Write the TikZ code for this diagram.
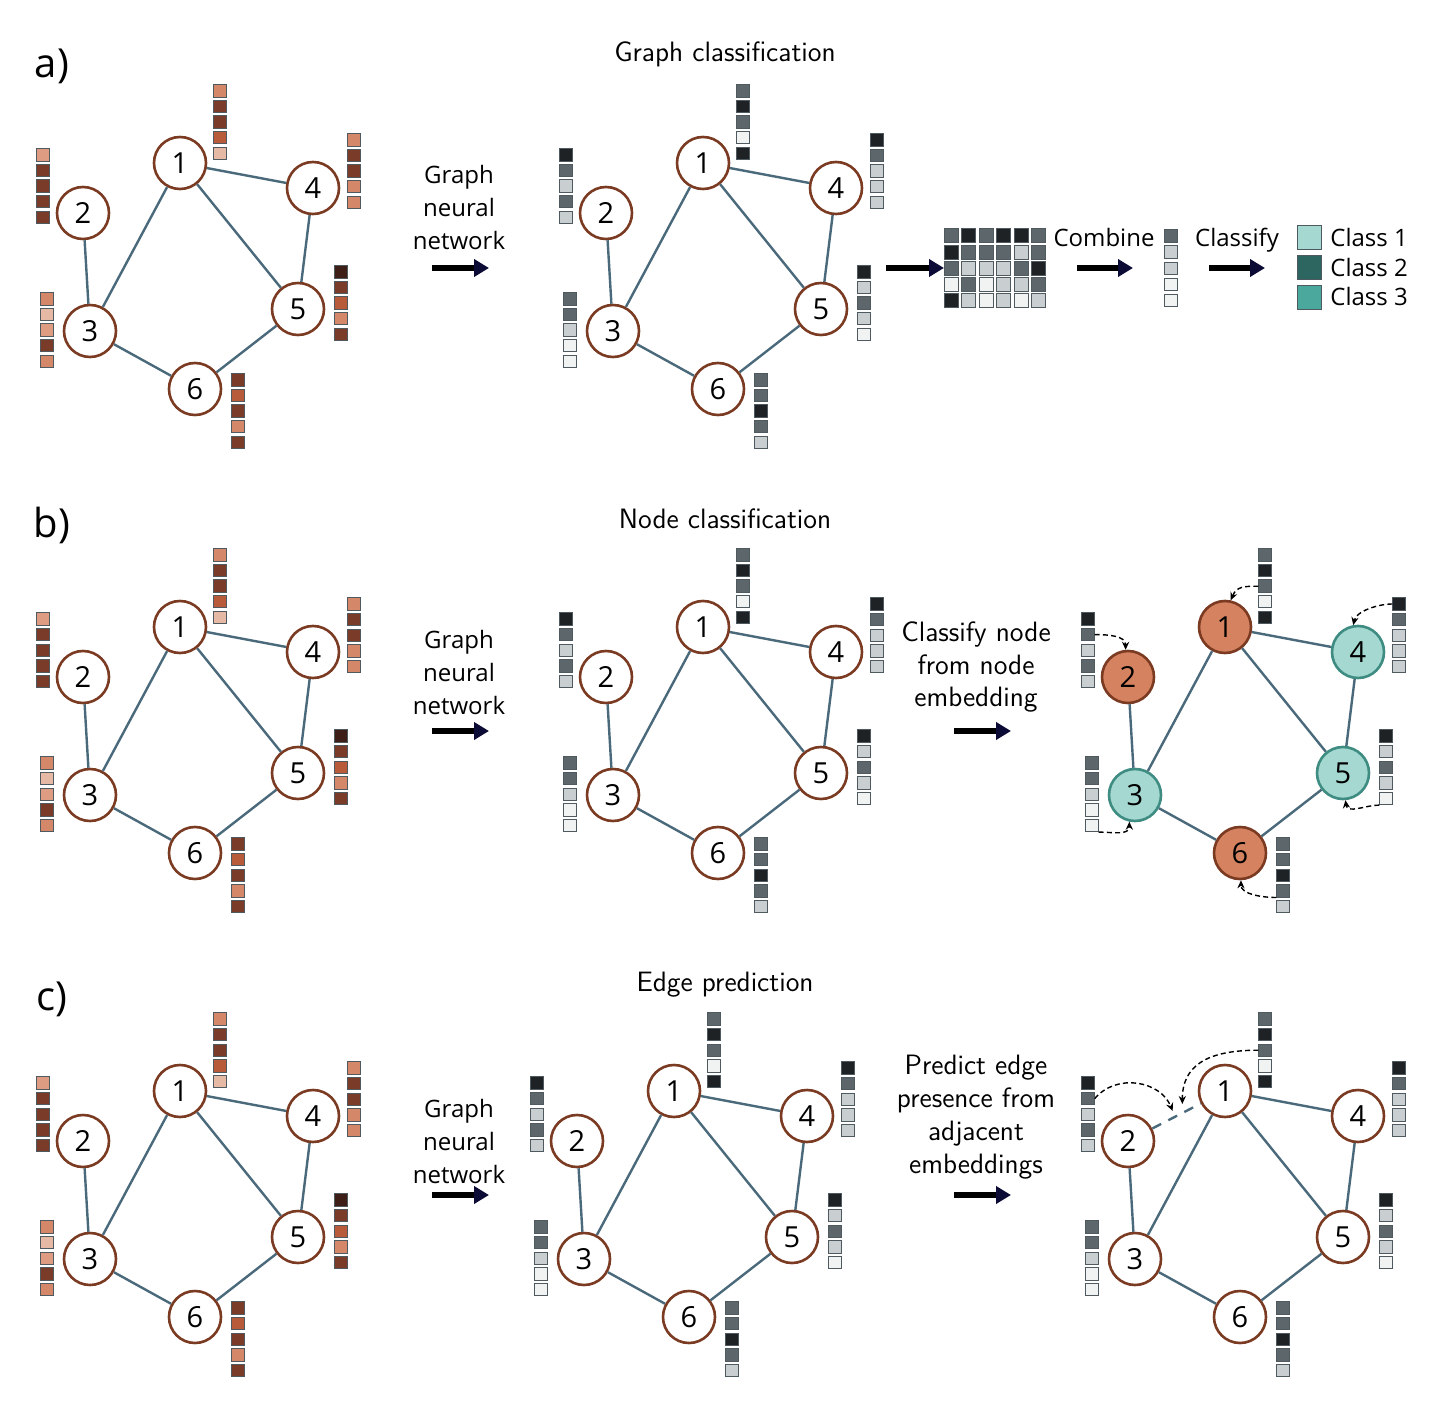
\documentclass[tikz,border=0pt]{standalone}
\usepackage{fontspec}
\newfontfamily\osans{Open Sans}
\usetikzlibrary{arrows.meta,calc}
\definecolor{L1}{HTML}{E6B9A5}
\definecolor{L2}{HTML}{DE9C82}
\definecolor{L3}{HTML}{D5876A}
\definecolor{L4}{HTML}{B85B3B}
\definecolor{L5}{HTML}{7A3B28}
\definecolor{L6}{HTML}{3E1F17}
\definecolor{G1}{HTML}{F1F2F2}
\definecolor{G2}{HTML}{C9CED0}
\definecolor{G3}{HTML}{5D676B}
\definecolor{G4}{HTML}{1E2224}
\definecolor{sqborder}{HTML}{4E5A5F}
\definecolor{edgec}{HTML}{4A6A7B}
\definecolor{brownc}{HTML}{7B3A22}
\definecolor{orangec}{HTML}{D4825F}
\definecolor{tealL}{HTML}{A4D8D0}
\definecolor{tealB}{HTML}{3E8C82}
\definecolor{tealD}{HTML}{2D6660}
\definecolor{tealM}{HTML}{4AA89D}
\definecolor{navy}{HTML}{0B0B35}
% input features (orange) and embeddings (gray) per node a..f = 1..6
\def\vina{L3,L5,L5,L4,L1}
\def\vinb{L2,L5,L5,L5,L5}
\def\vinc{L3,L1,L2,L5,L3}
\def\vind{L3,L5,L5,L3,L3}
\def\vine{L6,L5,L4,L3,L5}
\def\vinf{L5,L4,L5,L3,L5}
\def\vouta{G3,G4,G3,G1,G4}
\def\voutb{G4,G3,G2,G3,G2}
\def\voutc{G3,G3,G2,G1,G1}
\def\voutd{G4,G3,G2,G2,G2}
\def\voute{G4,G2,G3,G2,G1}
\def\voutf{G3,G3,G4,G3,G2}
\def\vcomb{G3,G2,G2,G1,G1}
\newcommand\fvec[4]{%
  \edef\fvlist{#4}%
  \foreach \cc [count=\ii] in \fvlist {\node[sq,fill=\cc] (#1-\ii) at ({#2},{#3+7+15.6*(\ii-1)}) {};}}
\newcommand\gnngraph[5]{%
\begin{scope}[shift={(#2,#3)}]
 \node[gn,#5-1] (#1n1) at (180,163) {1};
 \node[gn,#5-2] (#1n2) at (83,213) {2};
 \node[gn,#5-3] (#1n3) at (90,331) {3};
 \node[gn,#5-4] (#1n4) at (313,188) {4};
 \node[gn,#5-5] (#1n5) at (298,309) {5};
 \node[gn,#5-6] (#1n6) at (195,389) {6};
 \draw[edge] (#1n1)--(#1n3) (#1n1)--(#1n4) (#1n1)--(#1n5) (#1n2)--(#1n3)
   (#1n3)--(#1n6) (#1n4)--(#1n5) (#1n5)--(#1n6);
 \fvec{#1v1}{220}{84}{\csname v#4a\endcsname}
 \fvec{#1v2}{43}{148}{\csname v#4b\endcsname}
 \fvec{#1v3}{47}{292}{\csname v#4c\endcsname}
 \fvec{#1v4}{354}{133}{\csname v#4d\endcsname}
 \fvec{#1v5}{341}{265}{\csname v#4e\endcsname}
 \fvec{#1v6}{238}{373}{\csname v#4f\endcsname}
\end{scope}}
\tikzset{
  gn/.style={circle,draw=brownc,line width=1.3pt,fill=white,minimum size=26pt,inner sep=0pt,
    font=\osans\fontsize{14.5}{14.5}\selectfont},
  edge/.style={draw=edgec,line width=1.2pt},
  sq/.style={draw=sqborder,line width=0.5pt,minimum size=6.2pt,inner sep=0pt},
  msq/.style={draw=sqborder,line width=0.5pt,minimum size=7pt,inner sep=0pt},
  legsq/.style={draw=sqborder,line width=0.6pt,minimum size=12pt,inner sep=0pt},
  bigarrow/.style={line width=2.6pt,black,-{Triangle[length=7.5pt,width=8.5pt,color=navy]}},
  darr/.style={draw=black,line width=0.7pt,dash pattern=on 2.5pt off 1.6pt,-{Stealth[length=4pt,width=3.6pt]}},
  ttl/.style={inner sep=0pt,font=\sffamily\fontsize{14}{16}\selectfont},
  side/.style={inner sep=0pt,align=center,font=\sffamily\fontsize{14}{16.4}\selectfont},
  gnntxt/.style={inner sep=0pt,align=center,font=\osans\fontsize{12}{16.5}\selectfont},
  otxt/.style={inner sep=0pt,font=\osans\fontsize{12}{14}\selectfont},
  plab/.style={inner sep=0pt,font=\osans\fontsize{20}{22}\selectfont},
  plain-1/.style={},plain-2/.style={},plain-3/.style={},
  plain-4/.style={},plain-5/.style={},plain-6/.style={},
  cls-1/.style={fill=orangec},cls-2/.style={fill=orangec},cls-6/.style={fill=orangec},
  cls-3/.style={fill=tealL,draw=tealB},cls-4/.style={fill=tealL,draw=tealB},cls-5/.style={fill=tealL,draw=tealB},
}
\begin{document}
\begin{tikzpicture}[x=0.5pt,y=-0.5pt]
\useasboundingbox (0,0) rectangle (1440,1422);
\fill[white] (0,0) rectangle (1440,1422);

% ---------------- a) graph classification
\node[plab] (la) at (52,66) {a)};
\node[ttl] (ta) at (725,54) {Graph classification};
\gnngraph{aL}{0}{0}{in}{plain}
\gnngraph{aM}{523}{0}{out}{plain}
\node[gnntxt] (ga) at (459,208) {Graph\\neural\\network};
\coordinate (ga1) at (432,268); \coordinate (ga2) at (489,268);
\draw[bigarrow] (ga1) -- (ga2);
% matrix of embeddings
\foreach \col/\L in {1/a,2/b,3/c,4/d,5/e,6/f}{%
  \edef\mlist{\csname vout\L\endcsname}%
  \foreach \cc [count=\rr] in \mlist {\node[msq,fill=\cc] (m-\rr-\col) at ({951.5+17.4*(\col-1)},{236+16.2*(\rr-1)}) {};}}
\coordinate (ma1) at (886,268);
\draw[bigarrow] (ma1) -- (ma1 -| m-3-1.west);
\node[otxt,anchor=base] (comb) at (1104,247) {Combine};
\coordinate (ca1) at (1077,268); \coordinate (ca2) at (1133,268);
\draw[bigarrow] (ca1) -- (ca2);
\foreach \cc [count=\rr] in \vcomb {\node[sq,fill=\cc] (cv-\rr) at ({1171},{236+16.2*(\rr-1)}) {};}
\node[otxt,anchor=base] (clsf) at (1237,247) {Classify};
\coordinate (cl1) at (1209,268); \coordinate (cl2) at (1265,268);
\draw[bigarrow] (cl1) -- (cl2);
\node[legsq,fill=tealL] (leg1) at (1309.5,237.5) {};
\node[legsq,fill=tealD] (leg2) at (1309.5,267.5) {};
\node[legsq,fill=tealM] (leg3) at (1309.5,297.5) {};
\node[otxt,anchor=west] (lt1) at (1330,238) {Class 1};
\node[otxt,anchor=west] (lt2) at (1330,268) {Class 2};
\node[otxt,anchor=west] (lt3) at (1330,297) {Class 3};

% ---------------- b) node classification
\node[plab] (lb) at (52,525) {b)};
\node[ttl] (tb) at (725,519) {Node classification};
\gnngraph{bL}{0}{464}{in}{plain}
\gnngraph{bM}{523}{464}{out}{plain}
\gnngraph{bR}{1045}{464}{out}{cls}
\node[gnntxt] (gb) at (459,672) {Graph\\neural\\network};
\coordinate (gb1) at (432,731); \coordinate (gb2) at (489,731);
\draw[bigarrow] (gb1) -- (gb2);
\node[side] (sb) at (976,667) {Classify node\\from node\\embedding};
\coordinate (sb1) at (954,731); \coordinate (sb2) at (1011,731);
\draw[bigarrow] (sb1) -- (sb2);
\draw[darr] (bRv1-3.west) .. controls +(-14,0) and +(6,-14) .. (bRn1.78);
\draw[darr] (bRv2-2.east) .. controls +(14,0) and +(0,-14) .. (bRn2.95);
\draw[darr] (bRv4-1.west) .. controls +(-14,0) and +(3,-14) .. (bRn4.100);
\draw[darr] (bRv3-5.south east) .. controls +(14,0) and +(0,14) .. (bRn3.258);
\draw[darr] (bRv5-5.south west) .. controls +(-14,0) and +(2,14) .. (bRn5.-85);
\draw[darr] (bRv6-4.south west) .. controls +(-14,0) and +(0,14) .. (bRn6.-88);

% ---------------- c) edge prediction
\node[plab] (lc) at (52,999) {c)};
\node[ttl] (tc) at (725,985) {Edge prediction};
\gnngraph{cL}{0}{928}{in}{plain}
\gnngraph{cM}{494}{928}{out}{plain}
\gnngraph{cR}{1045}{928}{out}{plain}
\node[gnntxt] (gc) at (459,1141) {Graph\\neural\\network};
\coordinate (gc1) at (432,1195); \coordinate (gc2) at (489,1195);
\draw[bigarrow] (gc1) -- (gc2);
\node[side] (sc) at (976,1117) {Predict edge\\presence from\\adjacent\\embeddings};
\coordinate (sc1) at (954,1195); \coordinate (sc2) at (1011,1195);
\draw[bigarrow] (sc1) -- (sc2);
\draw[edge,dash pattern=on 5pt off 4pt] (cRn2) -- (cRn1);
\coordinate (cmA) at ($(cRn2)!0.46!(cRn1)+(0,-7)$);
\coordinate (cmB) at ($(cRn2)!0.56!(cRn1)+(0,-9)$);
\draw[darr] (cRv2-2.east) .. controls +(22,-26) and +(-12,-30) .. (cmA);
\draw[darr] (cRv1-3.west) .. controls +(-52,0) and +(0,-38) .. (cmB);
\end{tikzpicture}
\end{document}
